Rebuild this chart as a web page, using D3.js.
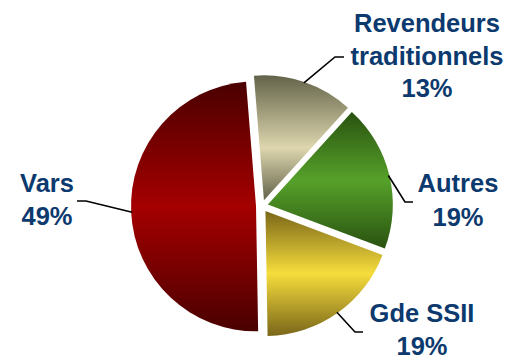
<!DOCTYPE html>
<html>
<head>
<meta charset="utf-8">
<script src="https://cdn.jsdelivr.net/npm/d3@7"></script>
<style>
  html, body { margin: 0; padding: 0; background: #ffffff; }
  svg { display: block; }
  .lbl { font-family: "Liberation Sans", Arial, sans-serif; font-weight: bold; font-size: 25.5px; fill: #0c3a6e; }
</style>
</head>
<body>
<svg id="chart" width="509" height="357"></svg>
<script>
// Market share by channel
const categories = ["Revendeurs traditionnels", "Autres", "Gde SSII", "Vars"];
const values = [13, 19, 19, 49];
const labelLines = [["Revendeurs", "traditionnels", "13%"], ["Autres", "19%"], ["Gde SSII", "19%"], ["Vars", "49%"]];

// Gradient stops per slice: edge shade, centre shade
const shades = [
  ["#63634a", "#ddd6ae"],
  ["#295210", "#56a12a"],
  ["#7a6619", "#f6dd3c"],
  ["#4a0000", "#a50000"]
];

// Label placement: elbow of the leader line, end of its horizontal run, text centre and first baseline
const layout = [
  { elbow: [335, 57], end: [344, 57], tx: 427, ty: 32, lh: 32.5 },
  { elbow: [405, 202], end: [413, 202], tx: 458, ty: 192, lh: 33.5 },
  { elbow: [355, 332], end: [363, 332], tx: 422, ty: 322, lh: 33 },
  { elbow: [86, 201], end: [77, 201], tx: 47, ty: 192, lh: 33 }
];

const cx = 262, cy = 206, radius = 125, explode = 6;
const start = -0.08;

const svg = d3.select("#chart");
const defs = svg.append("defs");

shades.forEach((s, i) => {
  const g = defs.append("linearGradient")
    .attr("id", "grad" + i)
    .attr("x1", 0).attr("y1", 0).attr("x2", 0).attr("y2", 1);
  g.append("stop").attr("offset", "0%").attr("stop-color", s[0]);
  g.append("stop").attr("offset", i === 0 ? "58%" : "50%").attr("stop-color", s[1]);
  g.append("stop").attr("offset", "100%").attr("stop-color", s[0]);
});

const pie = d3.pie().sort(null).startAngle(start).endAngle(start + 2 * Math.PI).value(d => d);
const arcs = pie(values);
const arc = d3.arc().innerRadius(0).outerRadius(radius);

const offset = d => {
  const a = (d.startAngle + d.endAngle) / 2;
  return [Math.sin(a) * explode, -Math.cos(a) * explode];
};

const slices = svg.append("g").attr("transform", `translate(${cx},${cy})`);
slices.selectAll("path")
  .data(arcs)
  .join("path")
  .attr("transform", d => { const o = offset(d); return `translate(${o[0]},${o[1]})`; })
  .attr("d", arc)
  .attr("fill", (d, i) => `url(#grad${i})`);

// Leader lines start on the outer rim at each slice's mid-angle
const lines = svg.append("g");
arcs.forEach((d, i) => {
  const a = (d.startAngle + d.endAngle) / 2;
  const o = offset(d);
  const p0 = [cx + o[0] + Math.sin(a) * (radius - 1), cy + o[1] - Math.cos(a) * (radius - 1)];
  const L = layout[i];
  lines.append("path")
    .attr("d", d3.line()([p0, L.elbow, L.end]))
    .attr("fill", "none")
    .attr("stroke", "#000")
    .attr("stroke-width", 1.6);
});

const labels = svg.append("g");
labelLines.forEach((ls, i) => {
  const L = layout[i];
  const t = labels.append("text").attr("class", "lbl").attr("text-anchor", "middle");
  ls.forEach((s, j) => {
    t.append("tspan").attr("x", L.tx).attr("y", L.ty + j * L.lh).text(s);
  });
});
</script>
</body>
</html>
